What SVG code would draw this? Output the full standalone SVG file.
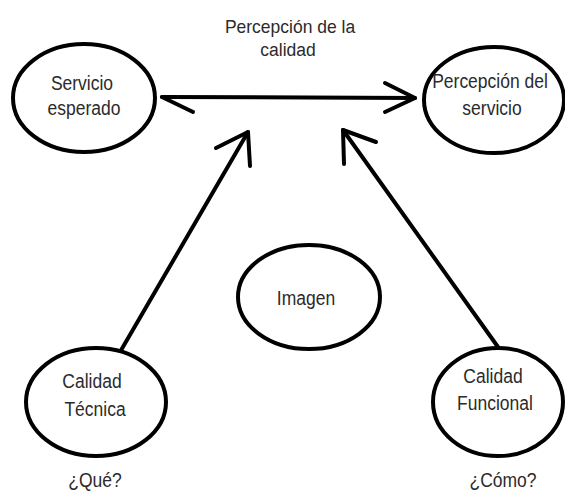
<svg xmlns="http://www.w3.org/2000/svg" width="565" height="497" viewBox="0 0 565 497">
<style>
.n{fill:#fff;stroke:#000;stroke-width:4}
.c{fill:none;stroke:#000;stroke-width:4;stroke-linecap:round;stroke-linejoin:round}
.t{font-family:"Liberation Sans",Arial,sans-serif;font-size:17.5px;fill:#2b2b2b;text-anchor:middle}
</style>
<rect width="565" height="497" fill="#fff"/>
<g id="connectors">
<path class="c" d="M162,97 L415,98"/>
<path class="c" d="M162,97 L193,112"/>
<path class="c" d="M385,83 L415,98 L385,112"/>
<path class="c" d="M120,352 L248,132"/>
<path class="c" d="M216,148 L248,132 L250,166"/>
<path class="c" d="M498,347 L343,130"/>
<path class="c" d="M376,142 L343,130 L344,164"/>
</g>
<g id="title">
<text class="t" transform="translate(290,33) scale(1,1.1)">Percepción de la</text>
<text class="t" transform="translate(288,56) scale(1,1.1)">calidad</text>
</g>
<g id="servicio-esperado">
<ellipse class="n" cx="84" cy="98" rx="71" ry="54"/>
<text class="t" transform="translate(82,90) scale(1,1.14)">Servicio</text>
<text class="t" transform="translate(84,115) scale(1,1.14)">esperado</text>
</g>
<g id="percepcion-servicio">
<ellipse class="n" cx="494" cy="100" rx="70" ry="53"/>
<text class="t" transform="translate(490,88) scale(1,1.14)">Percepción del</text>
<text class="t" transform="translate(492,115) scale(1,1.14)">servicio</text>
</g>
<g id="imagen">
<ellipse class="n" cx="309" cy="297" rx="71" ry="52"/>
<text class="t" transform="translate(306,305) scale(1,1.14)">Imagen</text>
</g>
<g id="calidad-tecnica">
<ellipse class="n" cx="96" cy="402" rx="70" ry="54"/>
<text class="t" transform="translate(92,388) scale(1,1.14)">Calidad</text>
<text class="t" transform="translate(95,416) scale(1,1.14)">Técnica</text>
<text class="t" transform="translate(95,487) scale(1,1.14)">¿Qué?</text>
</g>
<g id="calidad-funcional">
<ellipse class="n" cx="498" cy="402" rx="65" ry="54"/>
<text class="t" transform="translate(493,383) scale(1,1.14)">Calidad</text>
<text class="t" transform="translate(495,410) scale(1,1.14)">Funcional</text>
<text class="t" transform="translate(503,487) scale(1,1.14)">¿Cómo?</text>
</g>
</svg>
